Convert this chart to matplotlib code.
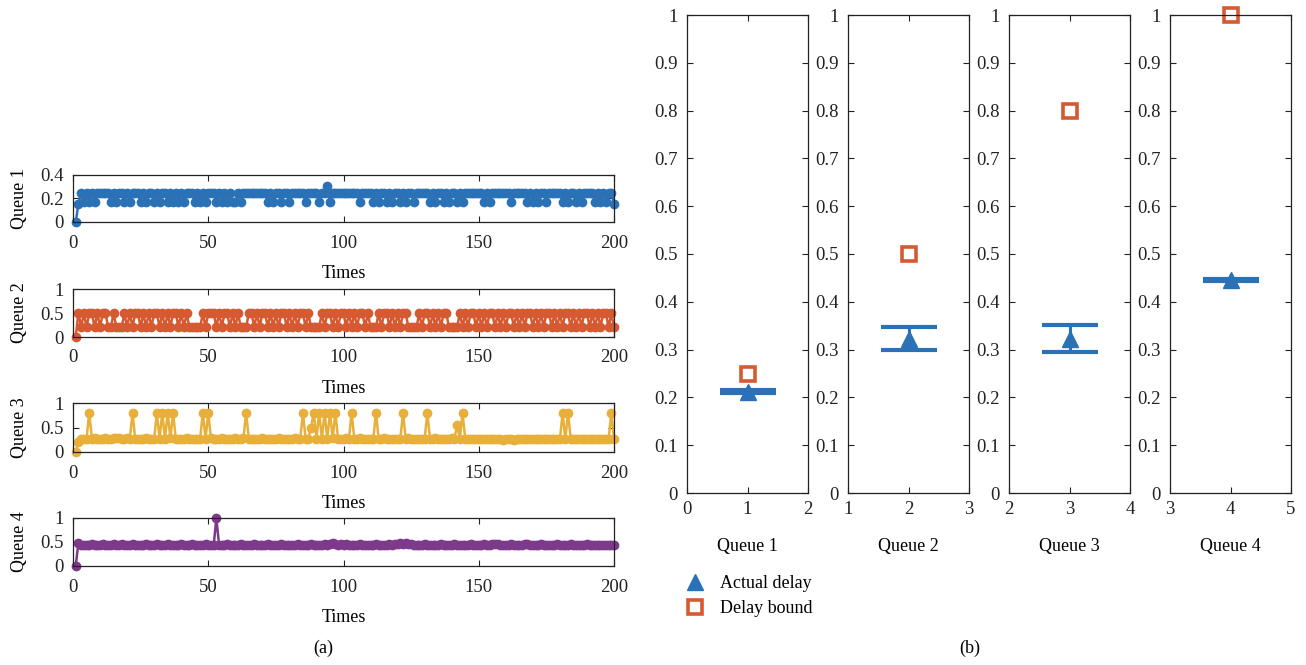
import matplotlib
matplotlib.use("Agg")
import matplotlib.pyplot as plt
from matplotlib.lines import Line2D

plt.rcParams['font.family'] = ['Liberation Serif', 'DejaVu Serif']
plt.rcParams['font.size'] = 12

# queue lengths over 200 time slots
times = list(range(1, 201))

queue1 = [
    0, 0.15, 0.25, 0.17, 0.25, 0.17, 0.25, 0.17, 0.25, 0.25, 0.25, 0.25, 0.25, 0.17, 0.25, 0.17, 0.25, 0.25, 0.17, 0.25,
    0.17, 0.25, 0.25, 0.25, 0.17, 0.25, 0.17, 0.25, 0.25, 0.17, 0.25, 0.17, 0.25, 0.25, 0.17, 0.25, 0.17, 0.25, 0.17, 0.25,
    0.17, 0.25, 0.25, 0.25, 0.17, 0.25, 0.17, 0.25, 0.17, 0.25, 0.25, 0.25, 0.17, 0.25, 0.17, 0.25, 0.17, 0.25, 0.17, 0.17,
    0.25, 0.17, 0.25, 0.25, 0.25, 0.25, 0.25, 0.25, 0.25, 0.25, 0.25, 0.17, 0.25, 0.17, 0.25, 0.25, 0.17, 0.25, 0.25, 0.17,
    0.25, 0.25, 0.25, 0.25, 0.25, 0.17, 0.25, 0.25, 0.25, 0.25, 0.17, 0.25, 0.25, 0.31, 0.17, 0.25, 0.25, 0.25, 0.25, 0.25,
    0.25, 0.25, 0.25, 0.25, 0.25, 0.17, 0.25, 0.25, 0.25, 0.25, 0.17, 0.25, 0.17, 0.25, 0.25, 0.17, 0.25, 0.17, 0.25, 0.25,
    0.17, 0.25, 0.17, 0.25, 0.25, 0.17, 0.25, 0.25, 0.25, 0.25, 0.25, 0.17, 0.25, 0.17, 0.25, 0.25, 0.17, 0.25, 0.17, 0.25,
    0.25, 0.17, 0.25, 0.17, 0.25, 0.25, 0.25, 0.25, 0.25, 0.25, 0.25, 0.17, 0.25, 0.17, 0.25, 0.25, 0.25, 0.25, 0.25, 0.25,
    0.25, 0.17, 0.25, 0.25, 0.25, 0.25, 0.25, 0.17, 0.25, 0.17, 0.25, 0.17, 0.25, 0.25, 0.17, 0.25, 0.25, 0.25, 0.25, 0.25,
    0.17, 0.25, 0.17, 0.25, 0.25, 0.17, 0.25, 0.17, 0.25, 0.25, 0.25, 0.25, 0.17, 0.25, 0.17, 0.25, 0.17, 0.25, 0.25, 0.15,
]

queue2 = [
    0, 0.5, 0.2, 0.5, 0.2, 0.5, 0.5, 0.2, 0.5, 0.2, 0.5, 0.5, 0.2, 0.2, 0.5, 0.2, 0.2, 0.2, 0.5, 0.2,
    0.5, 0.2, 0.5, 0.5, 0.2, 0.5, 0.2, 0.5, 0.2, 0.5, 0.5, 0.2, 0.5, 0.2, 0.5, 0.2, 0.5, 0.5, 0.2, 0.5,
    0.2, 0.5, 0.2, 0.2, 0.2, 0.2, 0.2, 0.5, 0.2, 0.5, 0.5, 0.5, 0.2, 0.5, 0.2, 0.5, 0.5, 0.2, 0.5, 0.2,
    0.5, 0.2, 0.2, 0.2, 0.5, 0.5, 0.2, 0.5, 0.2, 0.5, 0.5, 0.2, 0.5, 0.2, 0.5, 0.2, 0.5, 0.5, 0.2, 0.5,
    0.2, 0.5, 0.2, 0.5, 0.5, 0.2, 0.5, 0.2, 0.2, 0.2, 0.2, 0.5, 0.2, 0.5, 0.5, 0.2, 0.5, 0.2, 0.5, 0.5,
    0.2, 0.5, 0.2, 0.5, 0.2, 0.5, 0.5, 0.2, 0.5, 0.2, 0.2, 0.2, 0.5, 0.2, 0.5, 0.5, 0.2, 0.5, 0.2, 0.5,
    0.2, 0.5, 0.5, 0.2, 0.2, 0.2, 0.2, 0.5, 0.2, 0.5, 0.5, 0.2, 0.5, 0.2, 0.5, 0.2, 0.5, 0.5, 0.2, 0.2,
    0.2, 0.2, 0.5, 0.2, 0.5, 0.2, 0.5, 0.5, 0.2, 0.5, 0.2, 0.5, 0.2, 0.5, 0.5, 0.2, 0.5, 0.2, 0.5, 0.2,
    0.5, 0.5, 0.2, 0.5, 0.2, 0.5, 0.2, 0.5, 0.5, 0.2, 0.5, 0.2, 0.5, 0.2, 0.5, 0.5, 0.2, 0.5, 0.2, 0.5,
    0.2, 0.5, 0.5, 0.2, 0.5, 0.2, 0.5, 0.2, 0.5, 0.5, 0.2, 0.5, 0.2, 0.5, 0.2, 0.5, 0.5, 0.2, 0.5, 0.2,
]

queue3 = [
    0, 0.2, 0.26, 0.27, 0.27, 0.8, 0.27, 0.28, 0.27, 0.26, 0.27, 0.28, 0.27, 0.27, 0.28, 0.29, 0.28, 0.27, 0.27, 0.28,
    0.27, 0.8, 0.27, 0.26, 0.27, 0.27, 0.28, 0.27, 0.27, 0.27, 0.8, 0.27, 0.8, 0.27, 0.8, 0.28, 0.8, 0.27, 0.27, 0.26,
    0.27, 0.28, 0.27, 0.27, 0.27, 0.26, 0.27, 0.8, 0.27, 0.8, 0.28, 0.27, 0.27, 0.27, 0.28, 0.27, 0.27, 0.26, 0.27, 0.28,
    0.27, 0.27, 0.28, 0.8, 0.27, 0.27, 0.26, 0.27, 0.27, 0.28, 0.27, 0.27, 0.26, 0.27, 0.27, 0.28, 0.27, 0.27, 0.27, 0.26,
    0.27, 0.28, 0.27, 0.27, 0.8, 0.27, 0.27, 0.5, 0.8, 0.27, 0.8, 0.27, 0.8, 0.27, 0.8, 0.28, 0.8, 0.27, 0.27, 0.27,
    0.28, 0.27, 0.8, 0.27, 0.27, 0.28, 0.27, 0.27, 0.27, 0.27, 0.26, 0.8, 0.27, 0.27, 0.28, 0.27, 0.27, 0.27, 0.26, 0.27,
    0.27, 0.8, 0.27, 0.28, 0.27, 0.27, 0.27, 0.26, 0.27, 0.27, 0.8, 0.27, 0.27, 0.28, 0.27, 0.27, 0.26, 0.27, 0.27, 0.28,
    0.27, 0.55, 0.27, 0.8, 0.27, 0.26, 0.27, 0.27, 0.26, 0.26, 0.27, 0.26, 0.26, 0.27, 0.26, 0.26, 0.27, 0.26, 0.25, 0.26,
    0.26, 0.26, 0.25, 0.26, 0.27, 0.26, 0.26, 0.26, 0.27, 0.26, 0.26, 0.27, 0.26, 0.26, 0.27, 0.26, 0.26, 0.26, 0.27, 0.26,
    0.8, 0.26, 0.8, 0.27, 0.26, 0.26, 0.27, 0.26, 0.26, 0.27, 0.26, 0.26, 0.27, 0.26, 0.26, 0.27, 0.26, 0.26, 0.8, 0.27,
]

queue4 = [
    0, 0.48, 0.43, 0.44, 0.43, 0.44, 0.45, 0.43, 0.44, 0.44, 0.45, 0.44, 0.43, 0.44, 0.45, 0.44, 0.44, 0.46, 0.44, 0.43,
    0.44, 0.45, 0.44, 0.43, 0.44, 0.44, 0.46, 0.44, 0.43, 0.44, 0.45, 0.44, 0.44, 0.43, 0.45, 0.44, 0.44, 0.43, 0.44, 0.46,
    0.44, 0.43, 0.44, 0.45, 0.44, 0.44, 0.43, 0.44, 0.45, 0.44, 0.44, 0.43, 1.0, 0.44, 0.43, 0.44, 0.45, 0.44, 0.44, 0.43,
    0.44, 0.45, 0.44, 0.43, 0.44, 0.44, 0.45, 0.44, 0.43, 0.44, 0.44, 0.45, 0.44, 0.44, 0.43, 0.44, 0.45, 0.44, 0.44, 0.43,
    0.44, 0.44, 0.45, 0.44, 0.43, 0.44, 0.44, 0.45, 0.44, 0.44, 0.43, 0.44, 0.45, 0.44, 0.46, 0.47, 0.45, 0.44, 0.46, 0.44,
    0.45, 0.44, 0.44, 0.43, 0.44, 0.45, 0.44, 0.44, 0.43, 0.44, 0.44, 0.45, 0.44, 0.44, 0.43, 0.44, 0.45, 0.44, 0.45, 0.46,
    0.47, 0.46, 0.47, 0.46, 0.45, 0.44, 0.44, 0.43, 0.44, 0.45, 0.44, 0.44, 0.43, 0.44, 0.44, 0.45, 0.44, 0.44, 0.43, 0.44,
    0.45, 0.44, 0.44, 0.43, 0.44, 0.44, 0.45, 0.44, 0.44, 0.43, 0.44, 0.45, 0.44, 0.44, 0.45, 0.46, 0.45, 0.44, 0.44, 0.43,
    0.44, 0.45, 0.44, 0.44, 0.43, 0.44, 0.46, 0.45, 0.44, 0.44, 0.43, 0.44, 0.45, 0.44, 0.44, 0.43, 0.44, 0.44, 0.45, 0.44,
    0.44, 0.43, 0.44, 0.45, 0.44, 0.44, 0.43, 0.44, 0.44, 0.45, 0.44, 0.43, 0.44, 0.44, 0.43, 0.44, 0.44, 0.43, 0.44, 0.44,
]

# actual delay (mean and spread) against the delay bound per queue
queue_names = ['Queue 1', 'Queue 2', 'Queue 3', 'Queue 4']
delay_mean = [0.212, 0.323, 0.323, 0.446]
delay_err = [0.003, 0.024, 0.028, 0.002]
delay_bound = [0.25, 0.5, 0.8, 1.0]

series = [queue1, queue2, queue3, queue4]
colors = ['#2a72b5', '#d65a31', '#e8b03b', '#7e3a8a']
blue = '#2a72b5'
orange = '#d65a31'

W, H = 1306, 665


def px_axes(fig, left, top, right, bottom):
    return fig.add_axes([left / W, 1 - bottom / H, (right - left) / W, (bottom - top) / H])


def style(ax, xpad, ypad):
    ax.tick_params(direction='in', top=True, right=True, length=4, width=0.8,
                   labelsize=13.5, colors='#222222')
    ax.tick_params(axis='x', pad=xpad)
    ax.tick_params(axis='y', pad=ypad)
    for s in ax.spines.values():
        s.set_linewidth(0.9)
        s.set_color('#222222')


fig = plt.figure(figsize=(W / 100, H / 100), dpi=100)

# (a) queue length time series
left_rows = [(175, 222), (289, 337), (403, 452), (518, 566)]
for i, (top, bottom) in enumerate(left_rows):
    ax = px_axes(fig, 73, top, 614, bottom)
    ax.plot(times, series[i], '-o', color=colors[i], lw=1.8, ms=6, clip_on=False)
    ax.set_xlim(0, 200)
    ax.set_xticks([0, 50, 100, 150, 200])
    if i == 0:
        ax.set_ylim(0, 0.4)
        ax.set_yticks([0, 0.2, 0.4])
        ax.set_yticklabels(['0', '0.2', '0.4'])
    else:
        ax.set_ylim(0, 1)
        ax.set_yticks([0, 0.5, 1])
        ax.set_yticklabels(['0', '0.5', '1'])
    ax.set_xlabel('Times', fontsize=13, labelpad=10)
    ax.set_ylabel(queue_names[i], fontsize=13, labelpad=9)
    style(ax, 9, 6.5)

# (b) delay per queue
right_cols = [687, 848, 1009, 1170]
for i, left in enumerate(right_cols):
    ax = px_axes(fig, left, 15, left + 121, 493)
    pos = i + 1
    ax.errorbar([pos], [delay_mean[i]], yerr=[delay_err[i]], fmt='^', color=blue,
                ms=11, elinewidth=2.2, capsize=20, capthick=3)
    ax.plot([pos], [delay_bound[i]], 's', mfc='white', mec=orange, mew=2.6, ms=9.5,
            clip_on=False)
    ax.set_xlim(pos - 1, pos + 1)
    ax.set_xticks([pos - 1, pos, pos + 1])
    ax.set_ylim(0, 1)
    yt = [k / 10 for k in range(11)]
    ax.set_yticks(yt)
    ax.set_yticklabels(['0'] + ['%.1f' % v for v in yt[1:-1]] + ['1'])
    ax.set_xlabel(queue_names[i], fontsize=13, labelpad=15)
    style(ax, 5.5, 6.5)

handles = [
    Line2D([], [], marker='^', color=blue, ls='none', ms=11),
    Line2D([], [], marker='s', mfc='white', mec=orange, mew=2.6, ms=9.5, ls='none'),
]
fig.legend(handles, ['Actual delay', 'Delay bound'], loc='upper left',
           bbox_to_anchor=(664 / W, 1 - 559 / H), frameon=False, fontsize=13,
           handletextpad=0.6, labelspacing=0.45, handlelength=1.6)

fig.text(323 / W, 1 - 648 / H, '(a)', ha='center', va='center', fontsize=13)
fig.text(970 / W, 1 - 648 / H, '(b)', ha='center', va='center', fontsize=13)

fig.savefig('out.png', dpi=100)
